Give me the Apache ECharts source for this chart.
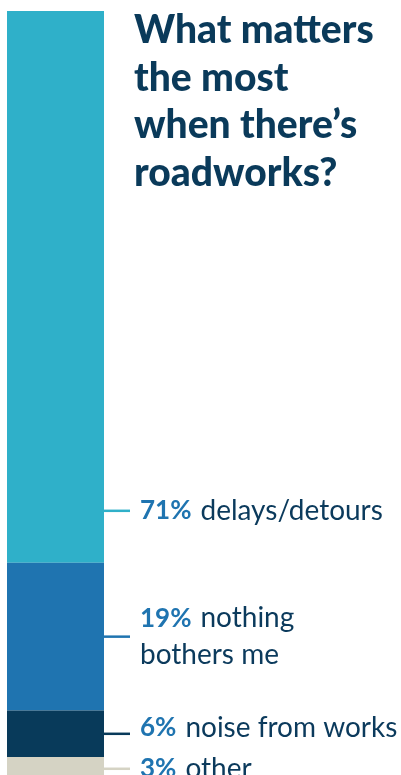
<!DOCTYPE html>
<html>
<head>
<meta charset="utf-8">
<script src="https://cdn.jsdelivr.net/npm/echarts@6/dist/echarts.min.js"></script>
<style>
html,body{margin:0;padding:0;background:#fff;}
#chart{width:401px;height:775px;}
</style>
</head>
<body>
<div id="chart"></div>
<script>
const titleText = "What matters\nthe most\nwhen there\u2019s\nroadworks?";
const categories = ["delays/detours", "nothing\nbothers me", "noise from works", "other"];
const values = [71, 19, 6, 3];
const colors = ["#2fb0c9", "#1f74b0", "#083a5a", "#d5d3c4"];

const chart = echarts.init(document.getElementById('chart'));

const starts = [];
let acc = 0;
values.forEach(v => { starts.push(acc); acc += v; });

const barSeries = values.map((v, i) => ({
  type: 'bar',
  stack: 'total',
  name: categories[i],
  data: [v],
  barWidth: '100%',
  barCategoryGap: 0,
  itemStyle: { color: colors[i] },
  silent: true
}));

const labelData = values.map((v, i) => [0, starts[i], starts[i] + v, i]);

const FONT = 'Lato, "Open Sans", sans-serif';
// text nudges (px) relative to connector for readability
const textNudge = { 2: -6 };

const labelSeries = {
  type: 'custom',
  clip: false,
  silent: true,
  data: labelData,
  encode: { x: 0, y: [1, 2] },
  renderItem: function (params, api) {
    const s = api.value(1), e = api.value(2), i = api.value(3);
    const halfW = api.size([1, 0])[0] / 2;
    const pMid = api.coord([0, (s + e) / 2]);
    const pEnd = api.coord([0, e]);
    let y = pMid[1];
    if (i === 0) y = pEnd[1] - 52;
    const x0 = pMid[0] + halfW;
    return {
      type: 'group',
      children: [
        {
          type: 'line',
          shape: { x1: x0, y1: y, x2: x0 + 26, y2: y },
          style: { stroke: colors[i], lineWidth: 2.5 }
        },
        {
          type: 'text',
          x: x0 + 36,
          y: y + (textNudge[i] || 0),
          style: {
            text: '{p|' + values[i] + '%}{t|' + categories[i].split('\n').join('}\n{t|') + '}',
            verticalAlign: 'middle',
            align: 'left',
            rich: {
              p: { fontFamily: FONT, fontWeight: 'bold', fontSize: 26, fill: '#1f74b0', lineHeight: 37, padding: [0, 9, 0, 0] },
              t: { fontFamily: FONT, fontWeight: 'normal', fontSize: 28, fill: '#0b3a5c', lineHeight: 37 }
            }
          }
        }
      ]
    };
  }
};

chart.setOption({
  animation: false,
  title: {
    text: titleText,
    left: 134,
    top: 7,
    padding: 0,
    textStyle: {
      fontFamily: FONT,
      fontWeight: 900,
      fontSize: 39,
      lineHeight: 47.5,
      color: '#0a3a5a'
    }
  },
  grid: { left: 7, top: 11, right: 297, bottom: 0 },
  xAxis: { type: 'category', data: ['share'], show: false },
  yAxis: { type: 'value', min: 0, max: 98.3, inverse: true, show: false },
  series: barSeries.concat([labelSeries])
});
</script>
</body>
</html>
